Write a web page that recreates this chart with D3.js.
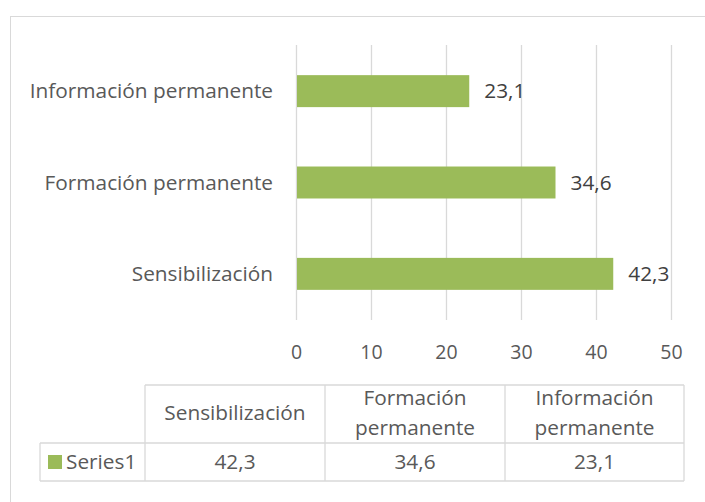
<!DOCTYPE html>
<html>
<head>
<meta charset="utf-8">
<script src="https://cdn.jsdelivr.net/npm/d3@7"></script>
<style>
  body { margin: 0; background: #fff; }
  text { font-family: "Open Sans", sans-serif; fill: #595959; }
</style>
</head>
<body>
<div class="chart"></div>
<script>
// data
var categories = ["Sensibilización", "Formación permanente", "Información permanente"];
var tableHeaders = [["Sensibilización"], ["Formación", "permanente"], ["Información", "permanente"]];
var seriesName = "Series1";
var values = [42.3, 34.6, 23.1];
var xTicks = [0, 10, 20, 30, 40, 50];

var svgWidth = 705;
var svgHeight = 502;
var barColor = "#9bbb59";
var gridColor = "#d9d9d9";
var labelSize = "20.8px";

var fmt = function(v) { return d3.format(".1f")(v).replace(".", ","); };

var svg = d3.select(".chart")
  .append("svg")
  .attr("width", svgWidth)
  .attr("height", svgHeight);

// outer chart border
svg.append("rect")
  .attr("x", 10.5).attr("y", 16.5)
  .attr("width", 720).attr("height", 520)
  .attr("fill", "none")
  .attr("stroke", gridColor);

var x = d3.scaleLinear().domain([0, 50]).range([296, 671]);
var y = d3.scaleBand()
  .domain(categories.slice().reverse())
  .range([45, 320])
  .paddingInner(0.65)
  .paddingOuter(0.33);

// gridlines
svg.append("g")
  .selectAll("line")
  .data(xTicks)
  .enter().append("line")
  .attr("x1", function(d) { return Math.round(x(d)) + 0.5; })
  .attr("x2", function(d) { return Math.round(x(d)) + 0.5; })
  .attr("y1", 45).attr("y2", 320)
  .attr("stroke", gridColor)
  .attr("stroke-width", 1.3);

// bars
svg.append("g")
  .selectAll("rect")
  .data(categories)
  .enter().append("rect")
  .attr("x", x(0) + 1)
  .attr("y", function(d) { return y(d); })
  .attr("width", function(d, i) { return x(values[i]) - x(0) - 1; })
  .attr("height", y.bandwidth())
  .attr("fill", barColor);

// value labels
svg.append("g")
  .selectAll("text")
  .data(categories)
  .enter().append("text")
  .attr("x", function(d, i) { return x(values[i]) + 15; })
  .attr("y", function(d) { return y(d) + y.bandwidth() / 2; })
  .attr("dy", "0.35em")
  .style("font-size", labelSize)
  .style("fill", "#404040")
  .text(function(d, i) { return fmt(values[i]); });

// category labels
svg.append("g")
  .selectAll("text")
  .data(categories)
  .enter().append("text")
  .attr("x", 273)
  .attr("y", function(d) { return y(d) + y.bandwidth() / 2; })
  .attr("dy", "0.35em")
  .attr("text-anchor", "end")
  .style("font-size", labelSize)
  .text(function(d) { return d; });

// x axis labels
var xAxis = d3.axisBottom(x).tickValues(xTicks).tickSize(0).tickPadding(0);
var axisG = svg.append("g")
  .attr("transform", "translate(0,352)")
  .call(xAxis);
axisG.select(".domain").remove();
axisG.selectAll("text")
  .attr("y", 0)
  .attr("dy", "0.35em")
  .style("font-size", "19.5px")
  .style("font-family", "'Open Sans', sans-serif")
  .attr("fill", "#595959");

// data table
var colX = [145, 325, 505, 684];
var tTop = 385, tMid = 443, tBot = 481, tLeft = 40;
var tbl = svg.append("g").attr("stroke", gridColor).attr("stroke-width", 1.3);
tbl.append("line").attr("x1", colX[0]).attr("x2", colX[3]).attr("y1", tTop).attr("y2", tTop);
tbl.append("line").attr("x1", tLeft).attr("x2", colX[3]).attr("y1", tMid).attr("y2", tMid);
tbl.append("line").attr("x1", tLeft).attr("x2", colX[3]).attr("y1", tBot).attr("y2", tBot);
tbl.append("line").attr("x1", tLeft).attr("x2", tLeft).attr("y1", tMid).attr("y2", tBot);
colX.forEach(function(cx) {
  tbl.append("line").attr("x1", cx).attr("x2", cx).attr("y1", tTop).attr("y2", tBot);
});

// header texts
tableHeaders.forEach(function(lines, i) {
  var cx = (colX[i] + colX[i + 1]) / 2;
  var cy = (tTop + tMid) / 2 - 1;
  var lh = 30;
  lines.forEach(function(line, j) {
    svg.append("text")
      .attr("x", cx)
      .attr("y", cy + (j - (lines.length - 1) / 2) * lh)
      .attr("dy", "0.35em")
      .attr("text-anchor", "middle")
      .style("font-size", labelSize)
      .text(line);
  });
});

// series row
var rowY = (tMid + tBot) / 2;
svg.append("rect")
  .attr("x", 48).attr("y", rowY - 7)
  .attr("width", 14).attr("height", 14)
  .attr("fill", barColor);
svg.append("text")
  .attr("x", 66).attr("y", rowY)
  .attr("dy", "0.35em")
  .style("font-size", labelSize)
  .text(seriesName);
values.forEach(function(v, i) {
  svg.append("text")
    .attr("x", (colX[i] + colX[i + 1]) / 2)
    .attr("y", rowY)
    .attr("dy", "0.35em")
    .attr("text-anchor", "middle")
    .style("font-size", labelSize)
    .text(fmt(v));
});
</script>
</body>
</html>
